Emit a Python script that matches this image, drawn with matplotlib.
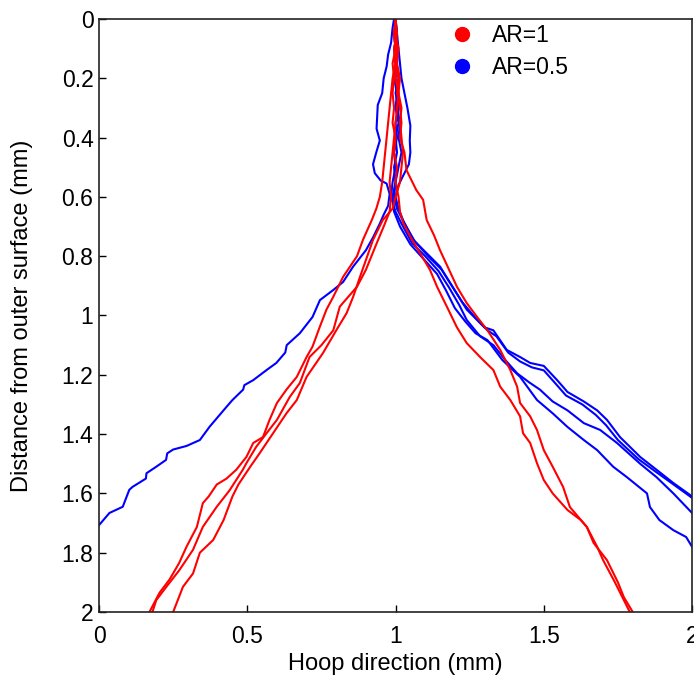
import matplotlib
matplotlib.use("Agg")
import matplotlib.pyplot as plt
from matplotlib.lines import Line2D

plt.rcParams['font.family'] = ['Liberation Sans', 'DejaVu Sans']

# crack paths, AR=1 (red)
r1_x = [1.0, 1.0, 1.005, 1.0, 1.01, 1.005, 1.015, 1.02, 1.015, 1.03, 1.037, 1.07, 1.093,
        1.105, 1.13, 1.15, 1.17, 1.207, 1.24, 1.275, 1.31, 1.353, 1.387, 1.41, 1.42, 1.454,
        1.477, 1.50, 1.53, 1.565, 1.588, 1.645, 1.668, 1.713, 1.75, 1.77, 1.80]
r1_y = [0.0, 0.05, 0.1, 0.15, 0.2, 0.25, 0.3, 0.35, 0.4, 0.45, 0.51, 0.577, 0.61,
        0.678, 0.73, 0.78, 0.823, 0.903, 0.958, 1.005, 1.05, 1.116, 1.184, 1.24, 1.295, 1.34,
        1.386, 1.454, 1.51, 1.578, 1.646, 1.713, 1.767, 1.825, 1.9, 1.95, 2.0]

r2_x = [1.0, 0.995, 1.0, 0.99, 0.995, 0.99, 0.995, 0.99, 1.0, 0.995, 1.005, 1.0, 1.01,
        1.015, 1.026, 1.05, 1.083, 1.116, 1.14, 1.173, 1.207, 1.24, 1.285, 1.33, 1.353,
        1.387, 1.42, 1.43, 1.454, 1.477, 1.50, 1.53, 1.58, 1.625, 1.645, 1.68, 1.70, 1.74,
        1.765, 1.79]
r2_y = [0.0, 0.05, 0.1, 0.15, 0.2, 0.25, 0.3, 0.35, 0.4, 0.45, 0.5, 0.55, 0.6,
        0.65, 0.688, 0.735, 0.79, 0.846, 0.903, 0.97, 1.04, 1.093, 1.14, 1.184, 1.24,
        1.285, 1.34, 1.397, 1.43, 1.498, 1.555, 1.60, 1.656, 1.69, 1.713, 1.78, 1.825, 1.9,
        1.95, 2.0]

r3_x = [1.0, 1.005, 0.995, 1.0, 0.99, 0.985, 0.98, 0.975, 0.97, 0.965, 0.96, 0.955, 0.947,
        0.935, 0.92, 0.89, 0.87, 0.823, 0.79, 0.767, 0.745, 0.72, 0.70, 0.667, 0.632, 0.60,
        0.575, 0.553, 0.52, 0.497, 0.463, 0.43, 0.397, 0.37, 0.35, 0.33, 0.295, 0.27, 0.238,
        0.204, 0.17]
r3_y = [0.0, 0.05, 0.1, 0.15, 0.2, 0.25, 0.3, 0.35, 0.4, 0.45, 0.5, 0.55, 0.6,
        0.64, 0.678, 0.745, 0.80, 0.87, 0.937, 0.98, 1.037, 1.105, 1.14, 1.207, 1.25, 1.295,
        1.352, 1.41, 1.43, 1.477, 1.52, 1.55, 1.57, 1.61, 1.633, 1.713, 1.78, 1.835, 1.89,
        1.935, 2.0]

r4_x = [1.0, 0.995, 1.0, 1.005, 1.0, 1.01, 1.005, 1.0, 0.995, 0.99, 0.985, 0.98, 0.985,
        0.98, 0.96, 0.937, 0.90, 0.87, 0.812, 0.79, 0.75, 0.71, 0.677, 0.643, 0.60, 0.565,
        0.53, 0.497, 0.485, 0.44, 0.397, 0.35, 0.317, 0.27, 0.227, 0.193, 0.18]
r4_y = [0.0, 0.05, 0.1, 0.15, 0.2, 0.25, 0.3, 0.35, 0.4, 0.45, 0.5, 0.55, 0.6,
        0.65, 0.7, 0.755, 0.846, 0.903, 0.97, 1.05, 1.1, 1.14, 1.228, 1.275, 1.352, 1.397,
        1.443, 1.498, 1.52, 1.59, 1.645, 1.713, 1.79, 1.86, 1.915, 1.96, 2.0]

r5_x = [1.0, 1.0, 1.01, 1.005, 1.015, 1.01, 1.02, 1.015, 1.02, 1.025, 1.02, 1.015, 1.0,
        0.99, 0.957, 0.924, 0.90, 0.88, 0.857, 0.835, 0.80, 0.755, 0.70, 0.667, 0.632, 0.587,
        0.542, 0.51, 0.47, 0.45, 0.42, 0.385, 0.34, 0.317, 0.283, 0.25]
r5_y = [0.0, 0.05, 0.1, 0.15, 0.2, 0.25, 0.3, 0.35, 0.4, 0.45, 0.5, 0.55, 0.6,
        0.64, 0.678, 0.745, 0.813, 0.87, 0.937, 0.992, 1.05, 1.127, 1.207, 1.285, 1.33, 1.397,
        1.464, 1.51, 1.57, 1.61, 1.69, 1.757, 1.80, 1.87, 1.915, 2.0]

# crack paths, AR=0.5 (blue)
b1_x = [0.995, 0.99, 0.985, 0.975, 0.97, 0.96, 0.955, 0.94, 0.938, 0.936, 0.947, 0.935,
        0.924, 0.93, 0.95, 0.97, 0.98, 0.975, 0.96, 0.947, 0.925, 0.90, 0.857, 0.823, 0.79,
        0.745, 0.72, 0.677, 0.633, 0.628, 0.598, 0.565, 0.52, 0.49, 0.486, 0.45, 0.43, 0.373,
        0.34, 0.295, 0.25, 0.23, 0.226, 0.193, 0.16, 0.158, 0.113, 0.102, 0.08, 0.035, 0.0]
b1_y = [0.0, 0.03, 0.08, 0.12, 0.16, 0.2, 0.25, 0.29, 0.33, 0.37, 0.41, 0.45,
        0.49, 0.52, 0.545, 0.555, 0.59, 0.63, 0.66, 0.69, 0.735, 0.78, 0.835, 0.887, 0.914,
        0.948, 1.005, 1.06, 1.10, 1.125, 1.16, 1.184, 1.218, 1.235, 1.25, 1.285, 1.308, 1.375,
        1.42, 1.44, 1.452, 1.465, 1.487, 1.51, 1.532, 1.55, 1.578, 1.588, 1.645, 1.666, 1.707]

b2_x = [1.0, 1.005, 1.01, 1.015, 1.02, 1.03, 1.04, 1.05, 1.048, 1.05, 1.045, 1.03, 1.01,
        1.0, 1.01, 1.026, 1.06, 1.105, 1.15, 1.184, 1.22, 1.24, 1.27, 1.30, 1.33, 1.375, 1.42,
        1.454, 1.50, 1.545, 1.58, 1.635, 1.68, 1.713, 1.757, 1.825, 1.88, 1.937, 2.0]
b2_y = [0.0, 0.05, 0.1, 0.15, 0.2, 0.25, 0.3, 0.36, 0.41, 0.45, 0.49, 0.52, 0.56,
        0.6, 0.64, 0.68, 0.745, 0.79, 0.835, 0.89, 0.948, 0.98, 1.01, 1.04, 1.05, 1.116, 1.14,
        1.16, 1.17, 1.218, 1.258, 1.29, 1.32, 1.352, 1.41, 1.477, 1.52, 1.565, 1.61]

b3_x = [1.0, 0.995, 1.0, 1.005, 1.0, 1.01, 1.005, 1.015, 1.01, 1.02, 1.01, 1.0, 0.995,
        1.005, 1.03, 1.065, 1.11, 1.155, 1.19, 1.225, 1.25, 1.28, 1.31, 1.34, 1.38, 1.42,
        1.46, 1.50, 1.54, 1.575, 1.63, 1.675, 1.71, 1.75, 1.82, 1.875, 1.935, 2.0]
b3_y = [0.0, 0.05, 0.1, 0.15, 0.2, 0.25, 0.3, 0.35, 0.4, 0.45, 0.5, 0.55, 0.6,
        0.64, 0.69, 0.75, 0.80, 0.845, 0.90, 0.955, 0.985, 1.02, 1.05, 1.07, 1.125, 1.155,
        1.175, 1.185, 1.23, 1.27, 1.30, 1.335, 1.37, 1.42, 1.485, 1.525, 1.568, 1.615]

b4_x = [1.0, 1.005, 0.995, 1.0, 1.01, 1.0, 1.01, 1.0, 1.005, 0.995, 1.0, 0.99, 0.985,
        1.0, 1.02, 1.055, 1.10, 1.145, 1.18, 1.215, 1.24, 1.285, 1.33, 1.37, 1.41, 1.45,
        1.487, 1.53, 1.58, 1.635, 1.69, 1.747, 1.825, 1.88, 1.937, 2.0]
b4_y = [0.0, 0.05, 0.1, 0.15, 0.2, 0.25, 0.3, 0.35, 0.4, 0.45, 0.5, 0.55, 0.6,
        0.65, 0.69, 0.755, 0.80, 0.85, 0.905, 0.965, 1.015, 1.07, 1.10, 1.15, 1.195, 1.225,
        1.25, 1.29, 1.32, 1.363, 1.386, 1.43, 1.50, 1.545, 1.60, 1.666]

b5_x = [1.0, 1.0, 1.005, 1.0, 0.995, 1.005, 1.0, 1.01, 1.0, 1.005, 0.995, 1.0, 0.99,
        0.995, 1.015, 1.05, 1.095, 1.14, 1.17, 1.20, 1.235, 1.27, 1.31, 1.36, 1.42, 1.477,
        1.53, 1.58, 1.635, 1.68, 1.734, 1.78, 1.848, 1.858, 1.89, 1.937, 1.98, 2.0]
b5_y = [0.0, 0.05, 0.1, 0.15, 0.2, 0.25, 0.3, 0.35, 0.4, 0.45, 0.5, 0.55, 0.6,
        0.65, 0.70, 0.76, 0.81, 0.86, 0.915, 0.975, 1.02, 1.06, 1.083, 1.15, 1.207, 1.285,
        1.33, 1.376, 1.42, 1.454, 1.51, 1.545, 1.60, 1.646, 1.69, 1.724, 1.747, 1.78]

red_paths = [(r1_x, r1_y), (r2_x, r2_y), (r3_x, r3_y), (r4_x, r4_y), (r5_x, r5_y)]
blue_paths = [(b1_x, b1_y), (b2_x, b2_y), (b3_x, b3_y), (b4_x, b4_y), (b5_x, b5_y)]

x_ticks = [0, 0.5, 1, 1.5, 2]
y_ticks = [0, 0.2, 0.4, 0.6, 0.8, 1, 1.2, 1.4, 1.6, 1.8, 2]
tick_labels_x = ['0', '0.5', '1', '1.5', '2']
tick_labels_y = ['0', '0.2', '0.4', '0.6', '0.8', '1', '1.2', '1.4', '1.6', '1.8', '2']

fig = plt.figure(figsize=(6.94, 6.75), dpi=100)
ax = fig.add_axes([0.1427, 0.0933, 0.8545, 0.8786])

for px, py in blue_paths:
    ax.plot(px, py, color='#0000ff', lw=1.5)
for px, py in red_paths:
    ax.plot(px, py, color='#ff0000', lw=1.5)

ax.set_xlim(0, 2)
ax.set_ylim(2, 0)
ax.set_xticks(x_ticks)
ax.set_xticklabels(tick_labels_x)
ax.set_yticks(y_ticks)
ax.set_yticklabels(tick_labels_y)
ax.tick_params(direction='in', length=5, width=1, labelsize=16.5, top=False, right=False)
ax.tick_params(axis='x', pad=9)
ax.tick_params(axis='y', pad=4)
for s in ax.spines.values():
    s.set_linewidth(1.2)
    s.set_color('#222222')

ax.set_xlabel('Hoop direction (mm)', fontsize=17)
ax.set_ylabel('Distance from outer surface (mm)', fontsize=17)
ax.xaxis.set_label_coords(0.5, -0.069)
ax.yaxis.set_label_coords(-0.111, 0.5)

handles = [Line2D([], [], ls='none', marker='o', ms=10, color='#ff0000'),
           Line2D([], [], ls='none', marker='o', ms=10, color='#0000ff')]
ax.legend(handles, ['AR=1', 'AR=0.5'], loc='upper left', bbox_to_anchor=(0.558, 1.027),
          frameon=False, fontsize=16.5, handlelength=1.0, handletextpad=0.8,
          labelspacing=0.4)

fig.savefig('out.png', dpi=100)
